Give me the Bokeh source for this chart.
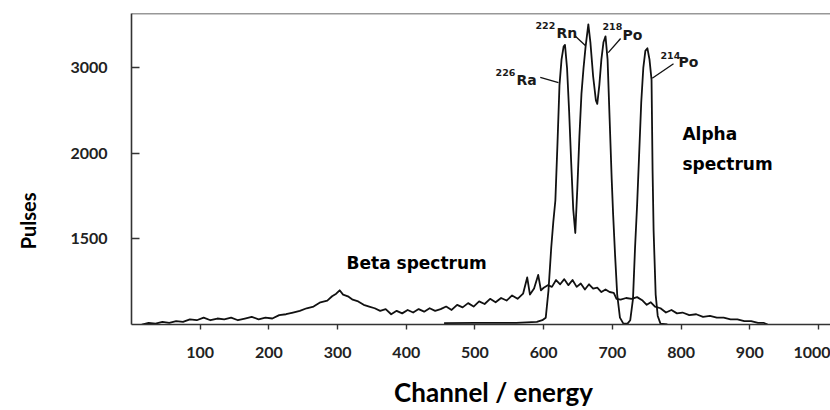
from bokeh.plotting import figure
from bokeh.models import Label, Span, FixedTicker, Range1d, LinearAxis
from bokeh.embed import file_html
from bokeh.resources import INLINE
import math

# ---------------- data ----------------
x_ticks = [100, 200, 300, 400, 500, 600, 700, 800, 900, 1000]
y_ticks = [1, 2, 3]
y_tick_labels = ["1500", "2000", "3000"]

beta_ch = [15, 25, 35, 45, 55, 65, 75, 85, 95, 105, 115, 125, 135, 145, 155, 165, 175, 185, 195,
           205, 215, 225, 235, 245, 255, 265, 275, 285, 292, 298, 303, 308, 315, 322, 330, 338,
           346, 354, 362, 370, 378, 386, 394, 402, 410, 418, 426, 434, 442, 450, 458, 466, 474,
           482, 490, 498, 506, 514, 522, 530, 538, 546, 554, 562, 570, 576, 580, 586, 592, 596,
           600, 606, 612, 618, 624, 630, 636, 642, 648, 654, 660, 666, 672, 678, 684, 690, 696,
           702, 706, 712, 720, 728, 736, 744, 750, 756, 762, 770, 778, 786, 794, 802, 812, 822,
           832, 842, 852, 862, 872, 882, 892, 902, 912, 920, 926]
beta_val = [0.00, 0.02, 0.01, 0.03, 0.02, 0.04, 0.03, 0.06, 0.05, 0.08, 0.05, 0.07, 0.06, 0.08,
            0.05, 0.07, 0.09, 0.06, 0.08, 0.07, 0.11, 0.12, 0.14, 0.16, 0.19, 0.21, 0.26, 0.28,
            0.33, 0.36, 0.40, 0.35, 0.33, 0.29, 0.27, 0.23, 0.21, 0.19, 0.16, 0.18, 0.12, 0.16,
            0.13, 0.17, 0.14, 0.18, 0.15, 0.19, 0.16, 0.18, 0.21, 0.17, 0.23, 0.20, 0.25, 0.21,
            0.27, 0.24, 0.30, 0.26, 0.31, 0.28, 0.34, 0.30, 0.36, 0.55, 0.35, 0.42, 0.58, 0.40,
            0.43, 0.46, 0.44, 0.52, 0.47, 0.53, 0.46, 0.52, 0.44, 0.48, 0.41, 0.47, 0.42, 0.43,
            0.38, 0.41, 0.38, 0.37, 0.30, 0.29, 0.31, 0.30, 0.32, 0.28, 0.23, 0.26, 0.21, 0.19,
            0.14, 0.17, 0.13, 0.14, 0.11, 0.12, 0.09, 0.10, 0.08, 0.08, 0.06, 0.06, 0.04, 0.04,
            0.02, 0.02, 0.00]

alpha_ch = [455, 500, 560, 590, 598, 603, 607, 611, 614, 617, 620, 623, 626, 629, 631, 634, 637,
            640, 643, 646, 649, 652, 655, 658, 661, 665, 668, 672, 676, 678, 681, 684, 687, 690,
            693, 696, 699, 701, 704, 707, 711, 716, 722, 726, 730, 733, 736, 739, 742, 745, 748,
            751, 754, 757, 758.5, 760, 763, 766, 770, 780]
alpha_val = [0.015, 0.02, 0.02, 0.03, 0.05, 0.08, 0.40, 0.90, 1.20, 1.45, 2.10, 2.80, 3.10, 3.25,
             3.27, 3.00, 2.50, 1.90, 1.35, 1.07, 1.60, 2.20, 2.70, 3.00, 3.25, 3.51, 3.30, 2.90,
             2.62, 2.58, 2.80, 3.10, 3.30, 3.37, 3.10, 2.40, 1.70, 1.30, 0.80, 0.35, 0.08, 0.01,
             0.01, 0.05, 0.30, 0.90, 1.40, 2.00, 2.60, 3.00, 3.20, 3.23, 3.10, 2.86, 1.80, 1.10,
             0.35, 0.10, 0.01, 0.00]

# peak annotations: (superscript, symbol)
iso_sup = ["226", "222", "218", "214"]
iso_sym = ["Ra", "Rn", "Po", "Po"]

# ---------------- figure ----------------
X_END = 1017.5
Y_END = 3.637

p = figure(width=830, height=410, output_backend="svg", toolbar_location=None,
           x_range=Range1d(0, X_END), y_range=Range1d(0, Y_END),
           min_border_left=131, min_border_right=0, min_border_top=13, min_border_bottom=86)
p.grid.visible = False
p.outline_line_color = None
p.background_fill_color = "white"
p.border_fill_color = "white"

AX = "#333333"
TXT = "#1a1a1a"

xa = p.xaxis[0]
xa.ticker = FixedTicker(ticks=x_ticks)
xa.major_tick_out = 5
xa.major_tick_in = 0
xa.minor_tick_line_color = None
xa.axis_line_color = AX
xa.axis_line_width = 1.6
xa.major_tick_line_color = AX
xa.major_tick_line_width = 1.4
xa.major_label_text_font = "Lato"
xa.major_label_text_font_style = "bold"
xa.major_label_text_font_size = "16px"
xa.major_label_text_color = "#222222"
xa.major_label_standoff = 17

ya = p.yaxis[0]
ya.ticker = FixedTicker(ticks=y_ticks)
ya.major_label_overrides = {t: s for t, s in zip(y_ticks, y_tick_labels)}
ya.major_tick_in = 8
ya.major_tick_out = 0
ya.minor_tick_line_color = None
ya.axis_line_color = AX
ya.axis_line_width = 1.6
ya.major_tick_line_color = AX
ya.major_tick_line_width = 1.4
ya.major_label_text_font = "Lato"
ya.major_label_text_font_style = "bold"
ya.major_label_text_font_size = "16px"
ya.major_label_text_color = "#222222"
ya.major_label_standoff = 24

# axis titles placed off-centre (as in the original) via label-only extra axes
X_TITLE_POS = 527
Y_TITLE_POS = 1.544
xt = LinearAxis(ticker=FixedTicker(ticks=[X_TITLE_POS]),
                major_label_overrides={X_TITLE_POS: "Channel / energy"},
                axis_line_color=None, major_tick_line_color=None, minor_tick_line_color=None,
                major_label_standoff=9, major_label_text_font="Lato",
                major_label_text_font_style="bold", major_label_text_font_size="26px",
                major_label_text_color="#000000")
p.add_layout(xt, "below")
yt = LinearAxis(ticker=FixedTicker(ticks=[Y_TITLE_POS]),
                major_label_overrides={Y_TITLE_POS: "Pulses"},
                major_label_orientation=math.pi / 2,
                axis_line_color=None, major_tick_line_color=None, minor_tick_line_color=None,
                major_label_standoff=33, major_label_text_font="Lato",
                major_label_text_font_style="bold", major_label_text_font_size="20px",
                major_label_text_color="#000000")
p.add_layout(yt, "left")

p.add_layout(Span(location=Y_END, dimension="width", line_color=AX, line_width=1.6))

# curves
p.line(beta_ch, beta_val, line_color="#111111", line_width=1.8, line_join="round")
p.line(alpha_ch, alpha_val, line_color="#111111", line_width=1.8, line_join="round")

# leader lines for isotopes
lead_x0 = [595, 645, 712, 789]
lead_y0 = [2.89, 3.38, 3.345, 3.05]
lead_x1 = [621.5, 661, 694, 758]
lead_y1 = [2.83, 3.26, 3.18, 2.88]
p.segment(lead_x0, lead_y0, lead_x1, lead_y1, line_color="#111111", line_width=1.3)

sup_x = [530, 588, 685.6, 770]
sup_y = [2.947, 3.497, 3.485, 3.146]
sym_x = [560.4, 618.6, 714.7, 796.2]
sym_y = [2.865, 3.404, 3.380, 3.064]
for s, sx, sy, m, mx, my in zip(iso_sup, sup_x, sup_y, iso_sym, sym_x, sym_y):
    p.add_layout(Label(x=sx, y=sy, text=s, text_font="DejaVu Sans", text_font_style="bold",
                       text_font_size="9.5px", text_color=TXT, text_baseline="alphabetic",
                       text_align="left"))
    p.add_layout(Label(x=mx, y=my, text=m, text_font="DejaVu Sans", text_font_style="bold",
                       text_font_size="14px", text_color=TXT, text_baseline="alphabetic",
                       text_align="left"))

# spectrum labels
for t, lx, ly in [("Beta spectrum", 313, 0.725), ("Alpha", 802, 2.23), ("spectrum", 802, 1.88)]:
    p.add_layout(Label(x=lx, y=ly, text=t, text_font="DejaVu Sans", text_font_style="bold",
                       text_font_size="17px", text_color="#000000", text_baseline="alphabetic",
                       text_align="left"))

open("out.html", "w").write(file_html(p, INLINE))
